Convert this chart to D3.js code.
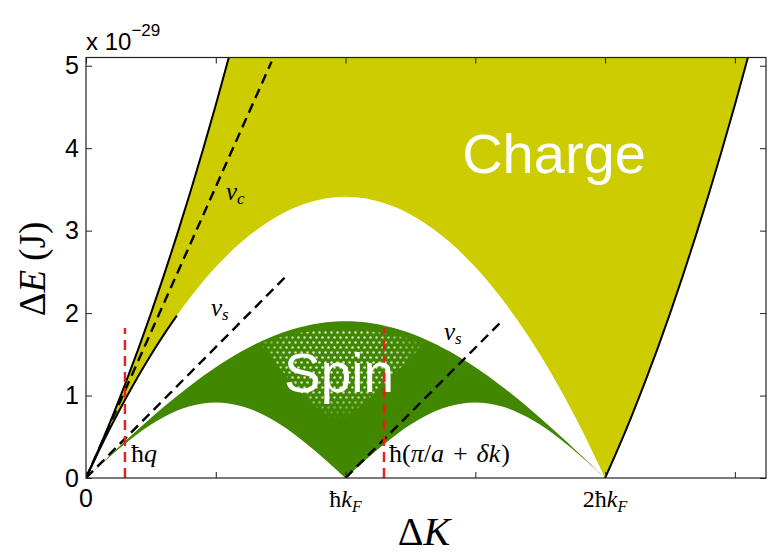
<!DOCTYPE html>
<html>
<head>
<meta charset="utf-8">
<script src="https://cdn.jsdelivr.net/npm/d3@7"></script>
<style>
  html, body { margin: 0; padding: 0; background: #fff; }
  svg { display: block; }
</style>
</head>
<body>
<svg id="chart" width="779" height="554"></svg>
<script>
// ---- Excitation spectrum data (ΔK in units of ħk_F, ΔE in units of 1e-29 J) ----

// Spin continuum: upper edge and the two lower arcs (lower split at ħk_F)
const spinK      = [0, 0.1, 0.2, 0.3, 0.4, 0.5, 0.6, 0.7, 0.8, 0.9, 1.0,
                    1.1, 1.2, 1.3, 1.4, 1.5, 1.6, 1.7, 1.8, 1.9, 2.0];
const spinUpper  = [0, 0.297, 0.587, 0.863, 1.117, 1.343, 1.537, 1.693, 1.807, 1.877, 1.900,
                    1.877, 1.807, 1.693, 1.537, 1.343, 1.117, 0.863, 0.587, 0.297, 0];
const spinLower  = [0, 0.283, 0.538, 0.740, 0.870, 0.915, 0.870, 0.740, 0.538, 0.283, 0,
                    0.283, 0.538, 0.740, 0.870, 0.915, 0.870, 0.740, 0.538, 0.283, 0];

// Charge continuum: lower dome between 0 and 2ħk_F
const domeK      = [0, 0.1, 0.2, 0.3, 0.4, 0.5, 0.6, 0.7, 0.8, 0.9, 1.0,
                    1.1, 1.2, 1.3, 1.4, 1.5, 1.6, 1.7, 1.8, 1.9, 2.0];
const domeE      = [0, 0.648, 1.228, 1.739, 2.182, 2.558, 2.864, 3.103, 3.274, 3.376, 3.410,
                    3.376, 3.274, 3.103, 2.864, 2.558, 2.182, 1.739, 1.228, 0.648, 0];

// Charge continuum: upper-left edge starting at the origin
const chargeLeftK  = [0, 0.05, 0.1, 0.15, 0.2, 0.25, 0.3, 0.35, 0.4, 0.45, 0.5, 0.55, 0.6];
const chargeLeftE  = [0, 0.356, 0.733, 1.132, 1.552, 1.994, 2.457, 2.942, 3.448, 3.976, 4.525, 5.096, 5.688];
// Charge continuum: right edge starting at 2ħk_F
const chargeRightK = [2, 2.05, 2.1, 2.15, 2.2, 2.25, 2.3, 2.35, 2.4, 2.45, 2.5, 2.55, 2.6];
const chargeRightE = [0, 0.356, 0.733, 1.132, 1.552, 1.994, 2.457, 2.942, 3.448, 3.976, 4.525, 5.096, 5.688];
// Low-momentum part of the charge lower edge, drawn as a solid line
const chargeLowK   = [0, 0.05, 0.1, 0.15, 0.2, 0.25, 0.3, 0.35];
const chargeLowE   = [0, 0.333, 0.648, 0.946, 1.228, 1.492, 1.739, 1.969];

// Velocity guide lines (start and end points)
const vcLine  = { k: [0, 0.715], e: [0, 5.05] };
const vsLine1 = { k: [0, 0.775], e: [0, 2.46] };
const vsLine2 = { k: [1, 1.595], e: [0, 1.88] };

// Momentum markers (red dashed)
const markerK   = [0.15, 1.148];
const markerTop = [1.82, 1.82];

// Axis ticks
const xTicks      = [0, 0.5, 1, 1.5, 2, 2.5];
const xLabelK     = [0, 1, 2];
const xLabelMain  = ["0", "ħk", "2ħk"];
const xLabelSub   = ["", "F", "F"];
const yTicks      = [0, 1, 2, 3, 4, 5];

// ---- Layout ----
const svg = d3.select("#chart");
const plot = { left: 86, right: 766, top: 57.5, bottom: 478 };

const x = d3.scaleLinear().domain([0, 2.62]).range([plot.left, plot.right]);
const y = d3.scaleLinear().domain([0, 5.1]).range([plot.bottom, plot.top]);

const zip = (ks, es) => ks.map((k, i) => [k, es[i]]);
const curveLine = d3.line().x(d => x(d[0])).y(d => y(d[1])).curve(d3.curveCatmullRom.alpha(0.5));
const straight  = d3.line().x(d => x(d[0])).y(d => y(d[1]));
const join = parts => parts.map((p, i) => i === 0 ? p : p.replace(/^M/, "L")).join("") + "Z";

const defs = svg.append("defs");
defs.append("clipPath").attr("id", "plotClip")
  .append("rect")
  .attr("x", plot.left).attr("y", plot.top)
  .attr("width", plot.right - plot.left).attr("height", plot.bottom - plot.top);

// dot texture used inside the spin band
const pat = defs.append("pattern").attr("id", "dots")
  .attr("patternUnits", "userSpaceOnUse").attr("width", 6).attr("height", 10);
pat.append("circle").attr("cx", 1.5).attr("cy", 2.5).attr("r", 1.25).attr("fill", "#fff");
pat.append("circle").attr("cx", 4.5).attr("cy", 7.5).attr("r", 1.25).attr("fill", "#fff");

const grad = defs.append("radialGradient").attr("id", "dotFade")
  .attr("gradientUnits", "userSpaceOnUse")
  .attr("cx", 338).attr("cy", 362).attr("r", 95)
  .attr("gradientTransform", "translate(338,362) scale(1,0.6) translate(-338,-362)");
grad.append("stop").attr("offset", 0).attr("stop-color", "#fff").attr("stop-opacity", 0.95);
grad.append("stop").attr("offset", 0.6).attr("stop-color", "#fff").attr("stop-opacity", 0.75);
grad.append("stop").attr("offset", 1).attr("stop-color", "#fff").attr("stop-opacity", 0);
defs.append("mask").attr("id", "dotMask")
  .append("rect").attr("x", 0).attr("y", 0).attr("width", 779).attr("height", 554)
  .attr("fill", "url(#dotFade)");

const g = svg.append("g").attr("clip-path", "url(#plotClip)");

// ---- Charge continuum (yellow) ----
const leftPts  = zip(chargeLeftK, chargeLeftE);
const rightPts = zip(chargeRightK, chargeRightE);
const domePts  = zip(domeK, domeE);
const chargePath = join([
  curveLine(leftPts),
  curveLine(rightPts.slice().reverse()),
  curveLine(domePts.slice().reverse())
]);
g.append("path").attr("d", chargePath).attr("fill", "#cccc00");

// ---- Spin continuum (green) ----
const upperPts = zip(spinK, spinUpper);
const lowerPts = zip(spinK, spinLower);
const spinPath = join([
  curveLine(upperPts),
  curveLine(lowerPts.slice(10).reverse()),
  curveLine(lowerPts.slice(0, 11).reverse())
]);
g.append("path").attr("d", spinPath).attr("fill", "#418700");

// dotted texture in the middle of the spin band
g.append("path")
  .attr("d", "M260,343 Q338,316 426,343 L380,388 L338,427 L296,388 Z")
  .attr("fill", "url(#dots)")
  .attr("mask", "url(#dotMask)");

// ---- Solid edges ----
const solid = [leftPts, rightPts, zip(chargeLowK, chargeLowE)];
g.selectAll("path.edge").data(solid).join("path")
  .attr("class", "edge")
  .attr("d", curveLine)
  .attr("fill", "none").attr("stroke", "#000").attr("stroke-width", 2);

// ---- Velocity guides (black dashed) ----
const guides = [vcLine, vsLine1, vsLine2];
g.selectAll("path.guide").data(guides).join("path")
  .attr("class", "guide")
  .attr("d", d => straight(zip(d.k, d.e)))
  .attr("fill", "none").attr("stroke", "#000")
  .attr("stroke-width", 2.4).attr("stroke-dasharray", "10,6");

// ---- Momentum markers (red dashed) ----
g.selectAll("line.marker").data(markerK).join("line")
  .attr("class", "marker")
  .attr("x1", d => x(d)).attr("x2", d => x(d))
  .attr("y1", y(0)).attr("y2", (d, i) => y(markerTop[i]))
  .attr("stroke", "#ee1c1c").attr("stroke-width", 2.4).attr("stroke-dasharray", "10,6");

// ---- Region labels ----
svg.append("text").attr("x", 554).attr("y", 173)
  .attr("text-anchor", "middle")
  .attr("font-family", "'Liberation Sans', Arial, sans-serif")
  .attr("font-size", 56).attr("fill", "#fff").text("Charge");
svg.append("text").attr("x", 339).attr("y", 392)
  .attr("text-anchor", "middle")
  .attr("font-family", "'Liberation Sans', Arial, sans-serif")
  .attr("font-size", 55).attr("fill", "#fff").text("Spin");

// ---- Math annotations ----
const serif = "'Liberation Serif', 'Times New Roman', serif";
function velLabel(px, py, sub) {
  const t = svg.append("text").attr("x", px).attr("y", py)
    .attr("font-family", serif).attr("font-size", 25).attr("fill", "#000");
  t.append("tspan").attr("font-style", "italic").text("v");
  t.append("tspan").attr("font-style", "italic").attr("font-size", 17).attr("dy", 4).text(sub);
}
velLabel(226, 200, "c");
velLabel(211, 316, "s");
velLabel(444, 340, "s");

svg.append("text").attr("x", 131).attr("y", 462)
  .attr("font-family", serif).attr("font-size", 26)
  .call(t => {
    t.append("tspan").text("ħ");
    t.append("tspan").attr("font-style", "italic").text("q");
  });
svg.append("text").attr("x", 389).attr("y", 462)
  .attr("font-family", serif).attr("font-size", 26)
  .call(t => {
    t.append("tspan").text("ħ(");
    t.append("tspan").attr("font-style", "italic").text("π");
    t.append("tspan").text("/");
    t.append("tspan").attr("font-style", "italic").text("a");
    t.append("tspan").attr("dx", 9).text("+");
    t.append("tspan").attr("dx", 9).attr("font-style", "italic").text("δk");
    t.append("tspan").attr("dx", 1).text(")");
  });

// ---- Axes: box with inward ticks on all four sides ----
const sans = "'Liberation Sans', Arial, Helvetica, sans-serif";
const axB = svg.append("g").attr("transform", `translate(0,${plot.bottom})`)
  .call(d3.axisBottom(x).tickValues(xTicks).tickSizeInner(-6).tickSizeOuter(0).tickFormat(""));
const axT = svg.append("g").attr("transform", `translate(0,${plot.top})`)
  .call(d3.axisTop(x).tickValues(xTicks).tickSizeInner(-6).tickSizeOuter(0).tickFormat(""));
const axL = svg.append("g").attr("transform", `translate(${plot.left},0)`)
  .call(d3.axisLeft(y).tickValues(yTicks).tickSizeInner(-6).tickSizeOuter(0)
    .tickPadding(7).tickFormat(d3.format("d")));
const axR = svg.append("g").attr("transform", `translate(${plot.right},0)`)
  .call(d3.axisRight(y).tickValues(yTicks).tickSizeInner(-6).tickSizeOuter(0).tickFormat(""));
[axB, axT, axL, axR].forEach(a => {
  a.select(".domain").remove();
  a.selectAll(".tick line").attr("stroke", "#222").attr("stroke-width", 1);
});
axL.selectAll(".tick text")
  .attr("font-family", sans).attr("font-size", 25).attr("fill", "#000");

svg.append("rect")
  .attr("x", plot.left).attr("y", plot.top)
  .attr("width", plot.right - plot.left).attr("height", plot.bottom - plot.top)
  .attr("fill", "none").attr("stroke", "#222").attr("stroke-width", 1.2);

// x tick labels
xLabelK.forEach((k, i) => {
  const t = svg.append("text").attr("x", x(k)).attr("y", 507)
    .attr("text-anchor", "middle").attr("fill", "#000");
  if (xLabelSub[i] === "") {
    t.attr("font-family", sans).attr("font-size", 25).text(xLabelMain[i]);
  } else {
    t.attr("font-family", serif).attr("font-size", 24);
    const main = xLabelMain[i];
    if (main.startsWith("2")) t.append("tspan").text("2");
    t.append("tspan").text("ħ");
    t.append("tspan").attr("font-style", "italic").text("k");
    t.append("tspan").attr("font-style", "italic").attr("font-size", 16).attr("dy", 5).text(xLabelSub[i]);
  }
});

// exponent note
svg.append("text").attr("x", 86).attr("y", 50)
  .attr("font-family", sans).attr("font-size", 24).attr("fill", "#000")
  .call(t => {
    t.append("tspan").text("x 10");
    t.append("tspan").attr("font-size", 17).attr("dy", -14).text("−29");
  });

// axis titles
svg.append("text").attr("x", 424).attr("y", 545)
  .attr("text-anchor", "middle").attr("font-family", serif).attr("font-size", 40)
  .call(t => {
    t.append("tspan").text("Δ");
    t.append("tspan").attr("font-style", "italic").text("K");
  });
svg.append("text")
  .attr("transform", "translate(45,269) rotate(-90)")
  .attr("text-anchor", "middle").attr("font-family", serif).attr("font-size", 37)
  .call(t => {
    t.append("tspan").text("Δ");
    t.append("tspan").attr("font-style", "italic").text("E");
    t.append("tspan").text(" (J)");
  });
</script>
</body>
</html>
